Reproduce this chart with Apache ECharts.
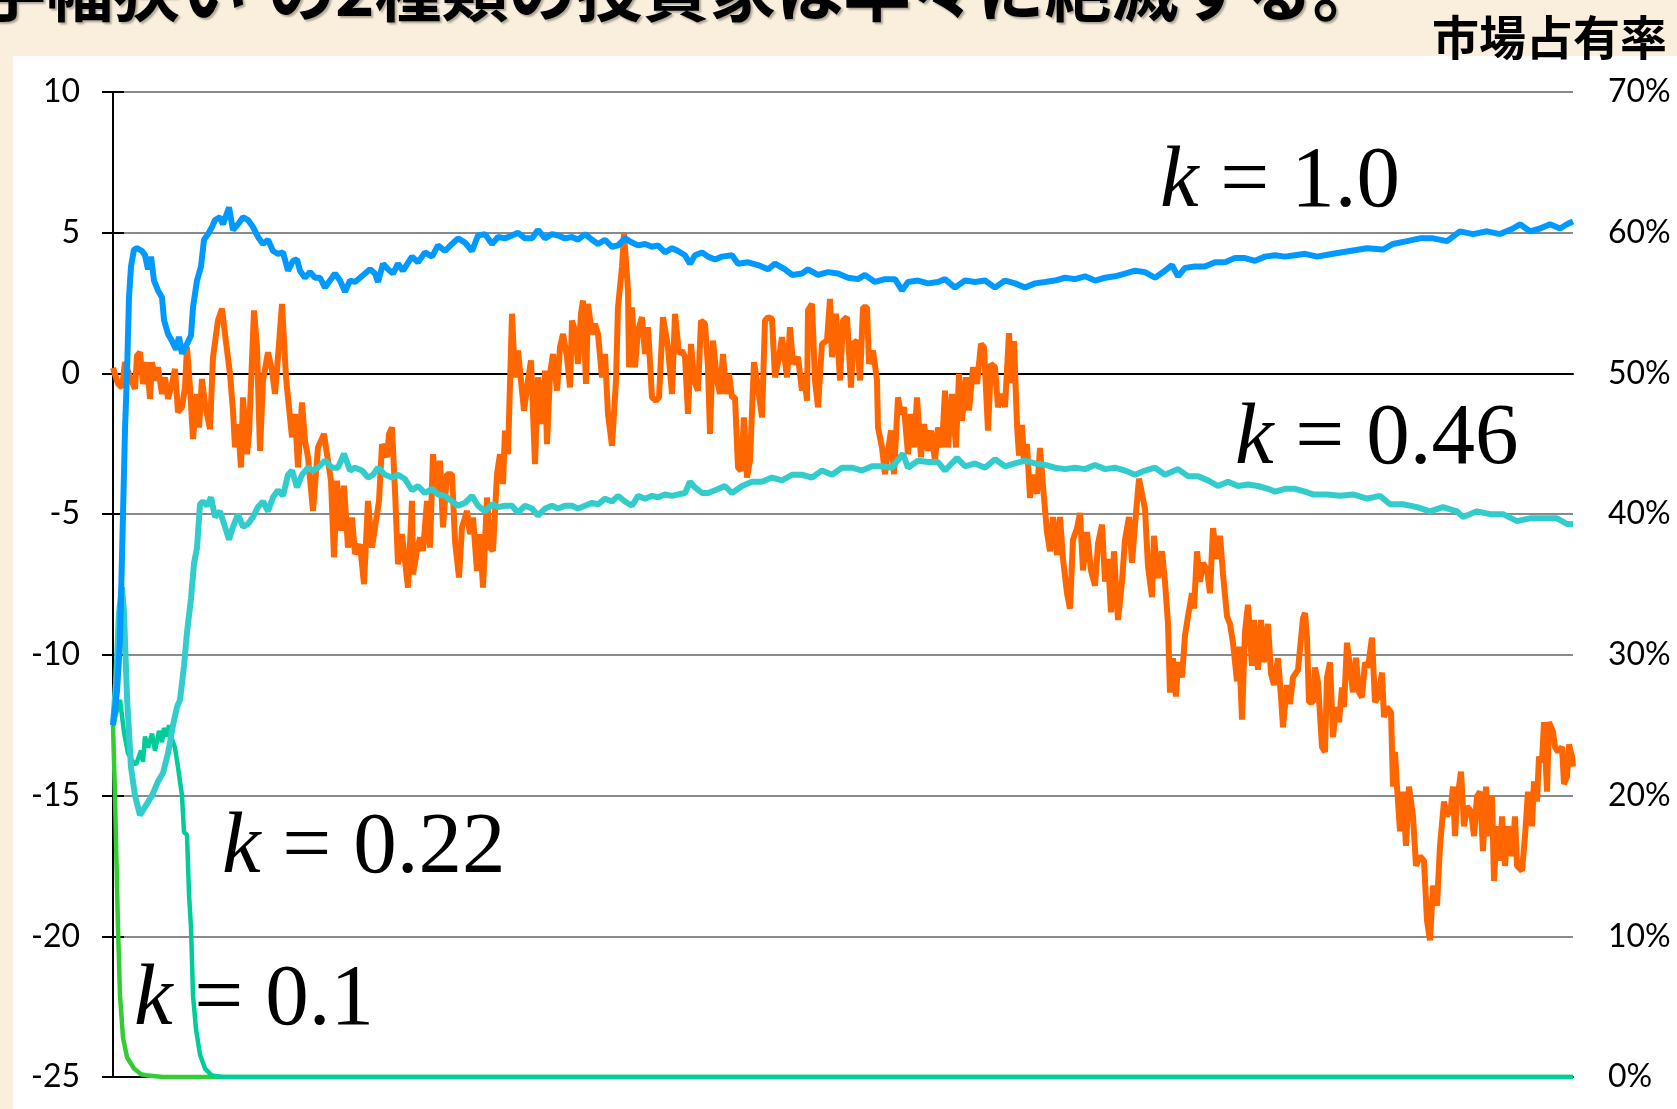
<!DOCTYPE html>
<html><head><meta charset="utf-8">
<script src="https://cdn.jsdelivr.net/npm/echarts@6/dist/echarts.min.js"></script>
<style>
html,body{margin:0;padding:0;width:1677px;height:1109px;overflow:hidden;background:#F9EFDC;}
#panel{position:absolute;left:13px;top:56px;right:0;bottom:0;background:#ffffff;}
#chart{position:absolute;left:0;top:0;width:1677px;height:1109px;}
</style></head><body><div id="panel"></div><div id="chart"></div>
<script>
// ---- data ----
// time steps 0..1460 (no x labels in the original)
const stepMax = 1460;
const leftTickRange = [-25, 10];   // left axis
const rightTickRange = [0, 70];    // right axis (%)

// orange: price (left axis)
const price = [
[0,0.2],[5,-0.37],[9,-0.5],[12,0.4],[17,-0.14],[22,-0.55],[24,0.63],[27,0.75],[30,-0.37],[34,0.4],[37,-0.9],[39,0.4],[42,-0.25],[45,0.22],[49,-0.73],[52,-0.14],[55,-0.9],[59,-0.37],[62,0.16],[65,-1.38],[69,-1.2],[72,-0.5],[74,0.93],[77,-0.5],[80,-2.33],[84,-0.73],[86,-1.92],[89,-0.2],[92,-1.09],[97,-1.98],[100,0.58],[105,1.88],[109,2.3],[112,1.4],[117,-0.02],[120,-1.32],[122,-2.63],[125,-1.8],[128,-3.34],[130,-0.85],[134,-2.87],[136,-2.15],[141,2.24],[144,0.93],[147,-2.75],[150,-0.25],[155,0.75],[159,0.1],[162,-0.73],[165,0.58],[169,2.47],[173,-0.14],[175,-0.85],[179,-2.27],[182,-1.44],[185,-3.34],[189,-1.03],[192,-2.39],[195,-2.98],[200,-4.88],[205,-2.63],[211,-2.15],[214,-2.87],[218,-3.81],[221,-6.54],[224,-3.81],[228,-5.59],[231,-3.99],[235,-6.19],[239,-5.12],[242,-6.42],[247,-6.07],[251,-7.49],[255,-4.53],[259,-6.19],[262,-5.47],[266,-4.53],[269,-2.51],[274,-2.98],[276,-2.15],[279,-1.92],[282,-4.17],[285,-6.78],[289,-5.71],
[295,-7.61],[299,-4.53],[300,-7.14],[304,-6.3],[307,-5.83],[310,-6.3],[314,-4.53],[317,-6.19],[320,-2.87],[324,-4.29],[327,-3.1],[330,-5.47],[334,-3.58],[339,-3.58],[342,-5.95],[346,-7.25],[349,-5.47],[354,-4.88],[357,-5.71],[360,-5.12],[364,-7.02],[367,-5.71],[370,-7.61],[374,-4.41],[377,-6.19],[380,-6.3],[384,-3.58],[387,-2.87],[390,-3.93],[392,-2.03],[395,-2.87],[399,2.12],[402,-0.14],[405,0.81],[409,-0.61],[411,-1.32],[415,-0.25],[418,0.46],[422,-3.22],[425,-0.14],[429,-1.8],[432,0.1],[434,-2.51],[437,-0.02],[440,0.69],[444,-0.61],[447,0.93],[450,1.4],[454,0.58],[457,-0.5],[459,1.88],[462,1.52],[465,0.34],[468,2.12],[470,2.59],[473,-0.37],[475,2.47],[479,1.4],[482,1.76],[485,1.4],[489,-0.14],[492,0.69],[495,-1.44],[499,-2.57],[503,-0.25],[505,2.35],[509,3.78],[511,4.96],[515,2.95],[516,0.22],[519,2.35],[522,0.22],[525,1.52],[529,2.0],[532,0.69],[535,1.64],[539,-0.85],[543,-0.97],[546,-0.85],[550,2.0],[555,0.93],[559,-0.73],[562,2.12],[566,0.69],[569,0.81],[572,0.58],[575,-1.44],[578,1.05],[581,-0.25],[585,-0.61],[588,1.88],
[592,1.76],[595,0.22],[597,-2.15],[600,1.17],[604,-0.25],[607,-0.73],[610,0.69],[613,-0.73],[616,-0.02],[619,-0.85],[622,-0.85],[625,-3.34],[628,-3.46],[631,-1.56],[634,-3.7],[637,-3.1],[641,0.4],[645,-0.5],[649,-1.56],[652,1.88],[655,2.0],[659,1.94],[662,-0.14],[666,0.58],[669,1.29],[674,-0.14],[677,1.64],[680,0.34],[685,0.58],[689,-0.61],[691,-0.02],[694,-0.97],[695,2.24],[699,2.47],[702,-0.25],[705,-1.2],[709,1.05],[714,1.17],[717,2.65],[719,0.58],[723,2.12],[727,-0.25],[730,1.88],[734,2.0],[738,-0.5],[740,1.05],[744,1.17],[747,-0.25],[750,2.35],[754,2.35],[756,0.34],[760,0.81],[764,-0.25],[765,-1.92],[769,-2.63],[772,-3.58],[775,-2.75],[778,-2.03],[781,-3.58],[785,-0.85],[788,-1.44],[791,-1.2],[795,-2.87],[798,-1.44],[801,-2.63],[804,-0.85],[808,-2.98],[811,-1.8],[815,-2.75],[818,-2.03],[822,-3.1],[825,-1.92],[829,-2.63],[832,-0.61],[835,-2.63],[839,-0.73],[843,-2.63],[846,-0.02],[849,-1.68],[853,-0.14],[856,-1.32],[860,0.22],[864,-0.37],[868,1.05],[871,0.93],[875,-2.03],[878,0.34],[882,0.22],[885,-1.2],[889,-0.73],[892,-1.2],
[896,1.43],[899,-0.34],[901,1.15],[904,-1.83],[906,-2.92],[909,-1.83],[911,-3.19],[914,-2.51],[917,-4.42],[920,-3.6],[924,-4.28],[927,-2.65],[930,-4.01],[934,-5.64],[937,-6.32],[940,-5.1],[944,-6.45],[947,-5.1],[950,-6.59],[954,-7.81],[957,-8.36],[960,-5.91],[964,-5.5],[967,-4.96],[970,-7.0],[974,-5.64],[978,-7.0],[982,-7.54],[985,-6.05],[989,-5.37],[992,-7.4],[995,-6.59],[998,-8.49],[1001,-6.32],[1005,-8.76],[1009,-7.4],[1012,-5.91],[1016,-5.1],[1019,-6.73],[1022,-5.37],[1026,-3.74],[1029,-4.28],[1032,-4.82],[1035,-6.86],[1039,-7.95],[1041,-5.77],[1045,-7.27],[1049,-6.32],[1052,-7.4],[1055,-8.9],[1057,-11.34],[1060,-10.12],[1063,-11.48],[1065,-10.26],[1069,-10.8],[1072,-9.31],[1075,-8.63],[1079,-7.81],[1081,-8.36],[1084,-6.32],[1087,-7.4],[1090,-6.73],[1094,-7.0],[1097,-7.81],[1100,-5.5],[1104,-6.59],[1107,-5.77],[1110,-7.13],[1114,-8.63],[1117,-8.9],[1120,-9.58],[1124,-10.94],[1126,-9.71],[1129,-12.3],[1132,-9.17],[1135,-8.22],[1139,-10.39],[1141,-8.76],[1145,-10.53],[1148,-8.76],[1151,-10.26],[1155,-8.9],[1158,-10.67],[1161,-11.07],[1165,-10.12],[1168,-11.48],[1170,-12.57],[1174,-11.07],[1177,-11.75],[1180,-10.8],[1185,-10.53],
[1190,-8.69],[1192,-8.51],[1194,-9.39],[1196,-11.68],[1200,-11.68],[1202,-10.45],[1205,-10.98],[1209,-13.27],[1212,-13.45],[1214,-10.8],[1217,-10.27],[1220,-12.92],[1223,-11.86],[1226,-12.39],[1229,-11.16],[1231,-11.86],[1234,-9.57],[1236,-9.57],[1240,-11.33],[1243,-10.1],[1246,-11.33],[1249,-11.51],[1252,-10.27],[1255,-10.45],[1259,-9.39],[1262,-11.68],[1265,-11.51],[1269,-10.63],[1271,-12.21],[1274,-11.86],[1278,-12.04],[1280,-14.68],[1282,-13.45],[1284,-14.68],[1287,-16.27],[1290,-14.86],[1293,-16.79],[1296,-14.68],[1300,-15.74],[1303,-17.5],[1307,-17.15],[1311,-17.32],[1314,-19.44],[1317,-20.14],[1320,-18.2],[1324,-18.91],[1327,-16.79],[1331,-15.21],[1334,-15.74],[1338,-15.38],[1340,-14.68],[1342,-16.44],[1344,-15.21],[1348,-14.15],[1351,-16.09],[1354,-15.38],[1358,-15.56],[1361,-16.44],[1364,-15.03],[1367,-14.86],[1370,-16.97],[1373,-14.68],[1375,-16.44],[1379,-15.03],[1381,-18.03],[1384,-16.09],[1387,-17.32],[1389,-15.74],[1392,-17.5],[1395,-16.09],[1399,-17.15],[1402,-15.74],[1404,-17.5],[1409,-17.67],[1412,-16.44],[1415,-14.86],[1419,-16.09],[1421,-14.5],[1424,-15.21],[1426,-13.62],[1429,-13.8],[1431,-12.39],[1434,-14.86],[1436,-12.39],[1440,-12.74],[1442,-13.27],[1445,-13.45],[1449,-13.27],[1451,-14.59],[1454,-14.33],[1456,-13.18],[1459,-13.62],[1460,-13.97]
];

// market shares (%, right axis)
const shareK10 = [
[0,25],[4,27.4],[7,31],[10,40],[12,46],[14,50],[16,55.4],[18,57.6],[21,58.8],
[24,58.9],[29,58.7],[32,58.4],[35,57.4],[38,58.3],[41,56.6],[45,55.9],[49,55.4],[51,53.8],[55,52.8],[59,52.3],[63,51.7],[66,52.6],[69,51.4],[74,52.1],[78,52.7],[80,54.7],[84,56.6],[88,57.6],[91,59.5],[95,59.9],[99,60.4],[102,60.9],[107,61.1],[110,60.6],[114,61.4],[116,61.8],[120,60.2],[125,60.6],[130,61.1],[135,60.9],[140,60.4],[145,59.7],[150,59.2],[155,59.5],[160,58.7],[165,58.5],[170,58.6],[175,57.3],[180,58.0],[184,58.1],[187,57.3],[192,56.8],[197,57.2],[202,56.8],[207,56.8],[212,56.1],[217,56.6],[222,57.1],[227,56.6],[232,55.8],[237,56.6],[242,56.5],[247,56.8],[252,57.1],[257,57.4],[262,57.1],[265,56.5],[270,57.8],[275,57.4],[280,57.1],[285,57.8],[290,57.3],
[299,58.3],[305,57.9],[312,58.6],[319,58.3],[325,59.1],[332,58.7],[339,59.2],[345,59.6],[352,59.3],[359,58.7],[365,59.8],[372,59.9],[379,59.2],[385,59.7],[392,59.6],[399,59.8],[405,60.0],[412,59.6],[419,59.6],[425,60.2],[432,59.6],[439,59.9],[445,59.8],[452,59.6],[459,59.7],[465,59.5],[472,59.9],[479,59.5],[485,59.2],[492,59.5],[499,59.0],[505,59.1],[512,59.6],[519,59.3],[525,59.1],[532,59.2],[539,59.0],[545,59.1],[552,58.6],[559,58.9],[565,58.7],[572,58.4],[577,57.8],[582,58.4],[589,58.6],
[595,58.3],[602,58.1],[609,58.3],[619,58.4],[625,57.8],[635,57.9],[645,57.7],[655,57.4],[662,57.8],[672,57.4],[679,57.0],[689,57.1],[695,57.4],[705,57.0],[715,57.2],[725,57.1],[735,56.8],[745,56.7],[752,57.0],[762,56.5],[772,56.7],[782,56.7],[789,55.9],[795,56.5],[805,56.6],[815,56.4],[825,56.5],[832,56.7],[842,56.1],[852,56.6],[862,56.5],[872,56.6],[882,56.1],[892,56.6],
[902,56.4],[912,56.1],[922,56.4],[932,56.5],[942,56.6],[952,56.8],[962,56.7],[972,56.9],[982,56.6],[992,56.8],[1002,56.9],[1012,57.1],[1022,57.3],[1032,57.2],[1042,56.8],[1052,57.3],[1059,57.7],[1065,56.9],[1072,57.5],[1082,57.6],[1092,57.6],[1102,57.9],[1112,57.9],[1122,58.2],[1132,58.2],[1142,58.0],[1152,58.3],[1162,58.4],[1172,58.3],[1182,58.4],[1192,58.5],
[1204,58.3],[1220,58.5],[1237,58.7],[1254,58.9],[1270,58.8],[1280,59.2],[1294,59.4],[1307,59.6],[1320,59.6],[1334,59.4],[1347,60.1],[1360,59.9],[1374,60.1],[1387,59.9],[1400,60.3],[1407,60.6],[1417,60.1],[1427,60.3],[1437,60.6],[1447,60.3],[1454,60.6],[1460,60.8]
];

const shareK046 = [
[0,25],[3,28],[6,33],[9,34.8],[11,33],[14,27],[18,22],[22,20],[27,18.6],[33,19.3],[39,20],[45,21],[50,21.6],[55,23],[60,25],[64,26.3],[67,26.8],[71,29.2],[74,31.6],[78,34],[81,36.5],[84,37.6],[87,40.7],[90,40.9],[94,40.6],[98,41.2],[102,39.8],[107,40.2],[112,39.1],[116,38.2],[120,39.1],[125,40.0],[130,39.1],[135,39.3],[140,39.8],[145,40.5],[150,40.9],[155,40.2],[160,41.2],[165,41.7],[170,41.3],[175,42.8],[179,43.1],[184,41.9],[189,42.8],[195,43.3],[200,43.1],[205,43.3],[212,43.8],[219,43.3],[225,43.3],[231,44.3],[237,43.1],[242,43.3],[249,43.1],[255,42.6],[260,42.8],[265,43.3],[272,42.8],[279,42.6],[285,42.8],[292,42.5],
[299,41.7],[305,42.0],[312,41.5],[319,41.8],[325,41.4],[332,41.3],[339,40.9],[345,40.6],[352,40.8],[359,41.3],[365,40.6],[372,40.2],[379,40.7],[385,40.5],[392,40.6],[399,40.6],[405,40.1],[412,40.6],[419,40.4],[425,39.9],[432,40.4],[439,40.6],[445,40.4],[452,40.6],[459,40.6],[465,40.4],[472,40.6],[479,40.8],[485,40.7],[492,41.1],[499,40.9],[505,41.3],[512,40.9],[519,40.6],[525,41.3],[532,41.1],[539,41.3],[545,41.2],[552,41.4],[559,41.3],[565,41.4],[572,41.5],[577,42.3],[582,41.9],[589,41.5],
[595,41.5],[602,41.7],[612,42.0],[619,41.5],[629,42.0],[639,42.3],[649,42.3],[659,42.6],[669,42.4],[679,42.8],[689,42.8],[699,42.6],[709,43.1],[719,42.8],[729,43.3],[739,43.3],[749,43.1],[759,43.4],[769,43.4],[779,43.3],[790,44.3],[795,43.3],[805,43.8],[815,43.7],[825,43.7],[832,43.1],[844,44.0],[852,43.4],[862,43.6],[872,43.3],[882,43.9],[892,43.4],
[902,43.6],[912,43.8],[922,43.6],[932,43.5],[942,43.3],[952,43.2],[962,43.3],[972,43.2],[982,43.5],[992,43.2],[1002,43.3],[1012,43.1],[1022,42.8],[1032,43.1],[1042,43.3],[1052,42.8],[1065,43.2],[1075,42.7],[1085,42.7],[1095,42.4],[1105,42.0],[1115,42.3],[1125,42.0],[1135,42.1],[1145,42.0],[1155,41.8],[1162,41.6],[1172,41.8],[1182,41.8],[1192,41.6],
[1200,41.4],[1214,41.4],[1227,41.3],[1240,41.4],[1254,41.1],[1267,41.3],[1277,40.7],[1290,40.7],[1304,40.5],[1317,40.2],[1330,40.5],[1344,40.2],[1350,39.8],[1364,40.2],[1377,40.0],[1390,40.0],[1404,39.5],[1417,39.7],[1430,39.7],[1444,39.7],[1454,39.3],[1460,39.3]
];

const shareK022 = [
[0,25],[3,25.8],[7,26.8],[11,24.5],[15,23],[20,22.4],[23,22.2],[28,23.2],[30,22.4],[32,24.2],[35,23.4],[39,24.4],[42,23.2],[46,24.6],[49,23.8],[51,24.8],[54,24.2],[56,25],[59,24],[62,23.4],[65,22],[69,20],[71,17.4],[74,17.2],[76,13],[78,10.6],[80,5.8],[83,3.4],[87,1.6],[92,0.6],[99,0.1],[110,0],[1460,0]
];

const shareK01 = [
[0,25],[2,20],[3.5,15.2],[5,10.6],[7,5.8],[10,2.8],[14,1.4],[21,0.6],[28,0.2],[35,0.1],[50,0],[1460,0]
];

const labelsK = ['1.0', '0.46', '0.22', '0.1'];

// ---- chart ----
const chart = echarts.init(document.getElementById('chart'), null, {renderer: 'canvas'});
const numFont = 'Lato, "Liberation Sans", sans-serif';
const serif = '"Liberation Serif", "DejaVu Serif", serif';
const cjk = '"Noto Sans CJK JP", sans-serif';

function kLabel(val, x, y) {
  return {
    type: 'text', x: x, y: y, z: 100,
    style: {
      text: '{i|k}{r| = ' + val + '}',
      verticalAlign: 'middle', align: 'left',
      rich: {
        i: {fontFamily: serif, fontStyle: 'italic', fontSize: 87, fill: '#000'},
        r: {fontFamily: serif, fontSize: 87, fill: '#000'}
      }
    }
  };
}

function lineSeries(name, data, color, width, axis) {
  return {
    name: name, type: 'line', data: data, yAxisIndex: axis,
    showSymbol: false, symbol: 'none', animation: false, silent: true,
    lineStyle: {color: color, width: width},
    itemStyle: {color: color}
  };
}

const option = {
  animation: false,
  grid: {left: 113, right: 104, top: 92, bottom: 32, containLabel: false},
  xAxis: [
    {type: 'value', min: 0, max: stepMax, position: 'bottom',
     axisLine: {show: true, lineStyle: {color: '#000', width: 2}},
     axisTick: {show: false}, axisLabel: {show: false}, splitLine: {show: false}},
    {type: 'value', min: 0, max: stepMax, position: 'top',
     axisLine: {show: true, lineStyle: {color: '#000', width: 2}},
     axisTick: {show: false}, axisLabel: {show: false}, splitLine: {show: false}}
  ],
  yAxis: [
    {type: 'value', min: leftTickRange[0], max: leftTickRange[1], interval: 5, position: 'left',
     axisLine: {show: true, lineStyle: {color: '#000', width: 2}},
     axisTick: {show: true, inside: false, length: 11, lineStyle: {color: '#000', width: 2}},
     axisLabel: {margin: 33, color: '#000', fontSize: 32, fontFamily: numFont},
     splitLine: {show: true, lineStyle: {color: '#8a8a8a', width: 2}}},
    {type: 'value', min: rightTickRange[0], max: rightTickRange[1], interval: 10, position: 'right',
     axisLine: {show: true, lineStyle: {color: '#000', width: 2}},
     axisTick: {show: true, inside: false, length: 11, lineStyle: {color: '#000', width: 2}},
     axisLabel: {margin: 35, color: '#000', fontSize: 32, fontFamily: numFont, formatter: '{value}%'},
     splitLine: {show: false}}
  ],
  series: [
    lineSeries('price', price, '#FF6600', 6, 0),
    lineSeries('k=0.1', shareK01, '#33CC33', 4.5, 1),
    lineSeries('k=0.22', shareK022, '#00CC99', 4.5, 1),
    lineSeries('k=0.46', shareK046, '#33CCCC', 6, 1),
    lineSeries('k=1.0', shareK10, '#0099FF', 6, 1)
  ],
  graphic: [
    {type: 'text', x: -21, y: -9, z: 100, style: {text: '手幅狭い', font: 'bold 67px ' + cjk, fill: '#000', verticalAlign: 'middle', align: 'left', textShadowColor: 'rgba(0,0,0,0.3)', textShadowOffsetX: 2, textShadowOffsetY: 2, textShadowBlur: 2}},
    {type: 'text', x: 268, y: -9, z: 100, style: {text: 'の2種類の投資家は早々に絶滅する。', font: 'bold 67px ' + cjk, fill: '#000', verticalAlign: 'middle', align: 'left', textShadowColor: 'rgba(0,0,0,0.3)', textShadowOffsetX: 2, textShadowOffsetY: 2, textShadowBlur: 2}},
    {type: 'text', x: 1667, y: 37, z: 100, style: {text: '市場占有率', font: 'bold 47px ' + cjk, fill: '#000', verticalAlign: 'middle', align: 'right'}},
    kLabel(labelsK[0], 1160, 183),
    kLabel(labelsK[1], 1235, 440),
    kLabel(labelsK[2], 222, 849),
    kLabel(labelsK[3], 134, 1001)
  ]
};
chart.setOption(option);
</script>
</body></html>
